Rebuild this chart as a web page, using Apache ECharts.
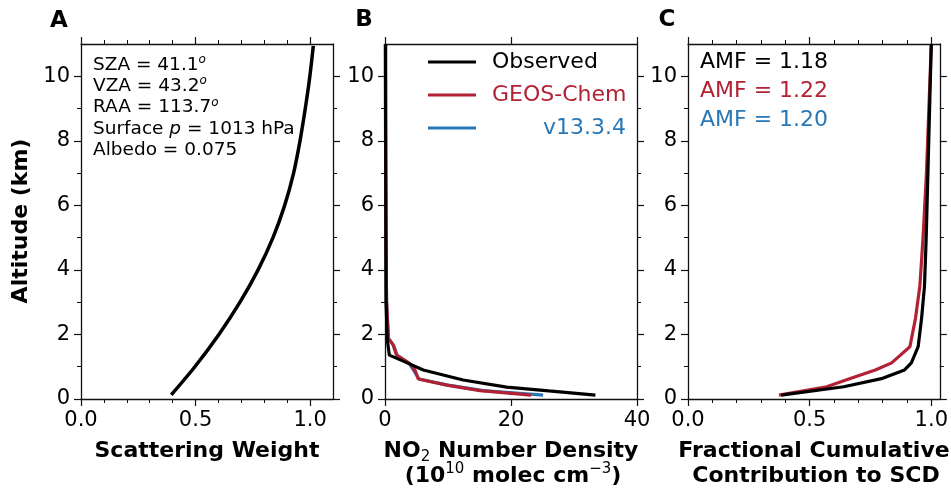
<!DOCTYPE html>
<html>
<head>
<meta charset="utf-8">
<script src="https://cdn.jsdelivr.net/npm/echarts@6/dist/echarts.min.js"></script>
<style>
  html, body { margin: 0; padding: 0; background: #fff; }
  #chart { width: 951px; height: 492px; }
</style>
</head>
<body>
<div id="chart"></div>
<script>
// tick values
const altTicks = [0, 2, 4, 6, 8, 10];
const altMinor = [1, 3, 5, 7, 9];
const swTicks = [0, 0.5, 1.0];
const swMinor = [0.1, 0.2, 0.3, 0.4, 0.6, 0.7, 0.8, 0.9];
const no2Ticks = [0, 20, 40];
const fracTicks = [0, 0.5, 1.0];
const fracMinor = [0.1, 0.2, 0.3, 0.4, 0.6, 0.7, 0.8, 0.9];

// panel A: scattering weight
const swAlt = [0.13, 1, 2, 3, 4, 5, 6, 7, 8, 9, 10, 10.94];
const swVal = [0.394, 0.497, 0.602, 0.694, 0.773, 0.838, 0.889, 0.928, 0.956, 0.979, 0.999, 1.014];

// panel B: NO2 number density (1e10 molec cm-3)
const obsAlt = [0.12, 0.25, 0.37, 0.59, 0.9, 1.15, 1.36, 1.82, 3, 5, 7, 9, 11];
const obsVal = [33.4, 26.0, 19.3, 12.4, 6.07, 3.17, 0.69, 0.37, 0.16, 0.14, 0.12, 0.1, 0.1];
const gcAlt = [0.12, 0.26, 0.43, 0.62, 0.9, 1.1, 1.36, 1.67, 1.88, 3, 5, 7, 9, 11];
const gcRedVal = [23.2, 15.1, 9.8, 5.28, 4.75, 3.96, 1.85, 1.3, 0.53, 0.25, 0.15, 0.1, 0.08, 0.06];
const gcBlueVal = [25.1, 15.6, 10.0, 5.4, 4.5, 3.85, 1.9, 1.35, 0.55, 0.25, 0.15, 0.1, 0.08, 0.06];

// panel C: fractional cumulative contribution
const cumAlt = [0.12, 0.38, 0.64, 0.9, 1.12, 1.62, 2.5, 3.5, 5, 7, 9, 11];
const cumObs = [0.383, 0.64, 0.8, 0.89, 0.918, 0.946, 0.96, 0.972, 0.979, 0.986, 0.993, 1.0];
const cumGc = [0.374, 0.57, 0.67, 0.77, 0.837, 0.912, 0.935, 0.953, 0.966, 0.98, 0.99, 1.0];

const amfLabels = ['AMF = 1.18', 'AMF = 1.22', 'AMF = 1.20'];

const BLACK = '#000';
const RED = '#b22234';
const BLUE = '#2878b8';
const FONT = 'DejaVu Sans';

const pairs = (xs, ys) => xs.map((x, i) => [x, ys[i]]);

const grid = [
  { left: 81, top: 44, width: 252, height: 355 },
  { left: 385, top: 44, width: 252, height: 355 },
  { left: 688, top: 44, width: 253, height: 355 },
];

const xAxis = [];
const yAxis = [];

// one major + one minor axis per side; labels only on the first side
function addAxes(list, gridIndex, min, max, major, minor, sides, fmt) {
  let mainIndex = -1;
  sides.forEach((pos, k) => {
    if (k === 0) mainIndex = list.length;
    list.push({
      type: 'value', gridIndex, position: pos, min, max,
      axisLine: { show: true, onZero: false, lineStyle: { color: '#111', width: 1.3 } },
      axisTick: { show: true, customValues: major, length: 7, lineStyle: { color: '#111', width: 1.2 } },
      axisLabel: {
        show: k === 0, customValues: major, formatter: fmt, margin: 11,
        color: '#000', fontSize: 21, fontFamily: FONT,
      },
      splitLine: { show: false },
    });
    if (minor.length) {
      list.push({
        type: 'value', gridIndex, position: pos, min, max,
        axisLine: { show: false, onZero: false },
        axisTick: { show: true, customValues: minor, length: 4, lineStyle: { color: '#111', width: 1 } },
        axisLabel: { show: false },
        splitLine: { show: false },
      });
    }
  });
  return mainIndex;
}

const fmt1 = (v) => v.toFixed(1);
const fmt0 = (v) => String(Math.round(v));

const xa = addAxes(xAxis, 0, 0, 1.1, swTicks, swMinor, ['bottom', 'top'], fmt1);
const xb = addAxes(xAxis, 1, 0, 40, no2Ticks, [], ['bottom', 'top'], fmt0);
const xc = addAxes(xAxis, 2, 0, 1.035, fracTicks, fracMinor, ['bottom', 'top'], fmt1);
const ya = addAxes(yAxis, 0, 0, 11, altTicks, altMinor, ['left', 'right'], fmt0);
const yb = addAxes(yAxis, 1, 0, 11, altTicks, altMinor, ['left', 'right'], fmt0);
const yc = addAxes(yAxis, 2, 0, 11, altTicks, altMinor, ['left', 'right'], fmt0);

const line = (name, xi, yi, data, color, width) => ({
  name, type: 'line', xAxisIndex: xi, yAxisIndex: yi, data,
  symbol: 'none', lineStyle: { color, width }, itemStyle: { color },
  silent: true,
});

const series = [
  Object.assign(line('Scattering Weight', xa, ya, pairs(swVal, swAlt), BLACK, 3.5), { smooth: 0.3 }),
  line('v13.3.4', xb, yb, pairs(gcBlueVal, gcAlt), BLUE, 3.2),
  line('GEOS-Chem', xb, yb, pairs(gcRedVal, gcAlt), RED, 3.2),
  line('Observed', xb, yb, pairs(obsVal, obsAlt), BLACK, 3.2),
  line('GEOS-Chem', xc, yc, pairs(cumGc, cumAlt), RED, 3.2),
  line('Observed', xc, yc, pairs(cumObs, cumAlt), BLACK, 3.2),
];

const bold = { fontFamily: FONT, fontWeight: 'bold', fontSize: 22, lineHeight: 28, fill: '#000' };
const sub = { fontFamily: FONT, fontWeight: 'normal', fontSize: 15, verticalAlign: 'bottom', lineHeight: 28, fill: '#000' };
const sup = { fontFamily: FONT, fontWeight: 'normal', fontSize: 15, verticalAlign: 'top', lineHeight: 28, fill: '#000' };

function txt(x, y, text, style) {
  return { type: 'text', x, y, silent: true,
    style: Object.assign({ text, align: 'center', verticalAlign: 'middle', fill: '#000', fontFamily: FONT }, style) };
}

const note = { fontFamily: FONT, fontSize: 18.5, lineHeight: 22, fill: '#000' };
const noteSup = { fontFamily: FONT, fontSize: 12, fontStyle: 'italic', verticalAlign: 'top', lineHeight: 22, fill: '#000' };
const noteIt = { fontFamily: FONT, fontSize: 18.5, fontStyle: 'italic', lineHeight: 22, fill: '#000' };
const noteRich = { n: note, s: noteSup, i: noteIt };
const notes = [
  '{n|SZA = 41.1}{s|o}',
  '{n|VZA = 43.2}{s|o}',
  '{n|RAA = 113.7}{s|o}',
  '{n|Surface }{i|p}{n| = 1013 hPa}',
  '{n|Albedo = 0.075}',
];

const graphic = [
  txt(59, 21, 'A', { fontWeight: 'bold', fontSize: 23 }),
  txt(364, 20, 'B', { fontWeight: 'bold', fontSize: 23 }),
  txt(667, 20, 'C', { fontWeight: 'bold', fontSize: 23 }),
  // y axis title
  { type: 'text', x: 21, y: 221, rotation: Math.PI / 2, silent: true,
    style: { text: 'Altitude (km)', align: 'center', verticalAlign: 'middle', fontFamily: FONT, fontWeight: 'bold', fontSize: 22, fill: '#000' } },
  // x axis titles
  txt(207, 451, 'Scattering Weight', { fontWeight: 'bold', fontSize: 22 }),
  txt(511, 451, '{b|NO}{sub|2}{b| Number Density}', { rich: { b: bold, sub } }),
  txt(513, 476, '{b|(10}{sup|10}{b| molec cm}{sup|−3}{b|)}', { rich: { b: bold, sup } }),
  txt(814, 451, 'Fractional Cumulative', { fontWeight: 'bold', fontSize: 22 }),
  txt(816, 476, 'Contribution to SCD', { fontWeight: 'bold', fontSize: 22 }),
];

notes.forEach((t, i) => {
  graphic.push({ type: 'text', x: 93, y: 65 + i * 21.25, silent: true,
    style: { text: t, rich: noteRich, align: 'left', verticalAlign: 'middle' } });
});

// legend in panel B
const legendRows = [
  { label: 'Observed', color: BLACK },
  { label: 'GEOS-Chem', color: RED },
  { label: 'v13.3.4', color: BLUE },
];
legendRows.forEach((r, i) => {
  const y = 62 + i * 33;
  graphic.push({ type: 'line', silent: true, shape: { x1: 428, y1: y, x2: 476, y2: y },
    style: { stroke: r.color, lineWidth: 3.2 } });
  const right = i === 2;
  graphic.push({ type: 'text', x: right ? 626 : 492, y, silent: true,
    style: { text: r.label, align: right ? 'right' : 'left', verticalAlign: 'middle', fontFamily: FONT, fontSize: 22, fill: r.color } });
});

// AMF values in panel C
const amfColors = [BLACK, RED, BLUE];
amfLabels.forEach((t, i) => {
  graphic.push({ type: 'text', x: 700, y: 62 + i * 29, silent: true,
    style: { text: t, align: 'left', verticalAlign: 'middle', fontFamily: FONT, fontSize: 22, fill: amfColors[i] } });
});

const chart = echarts.init(document.getElementById('chart'), null, { renderer: 'canvas' });
chart.setOption({
  animation: false,
  backgroundColor: '#fff',
  grid, xAxis, yAxis, series, graphic,
});
</script>
</body>
</html>
